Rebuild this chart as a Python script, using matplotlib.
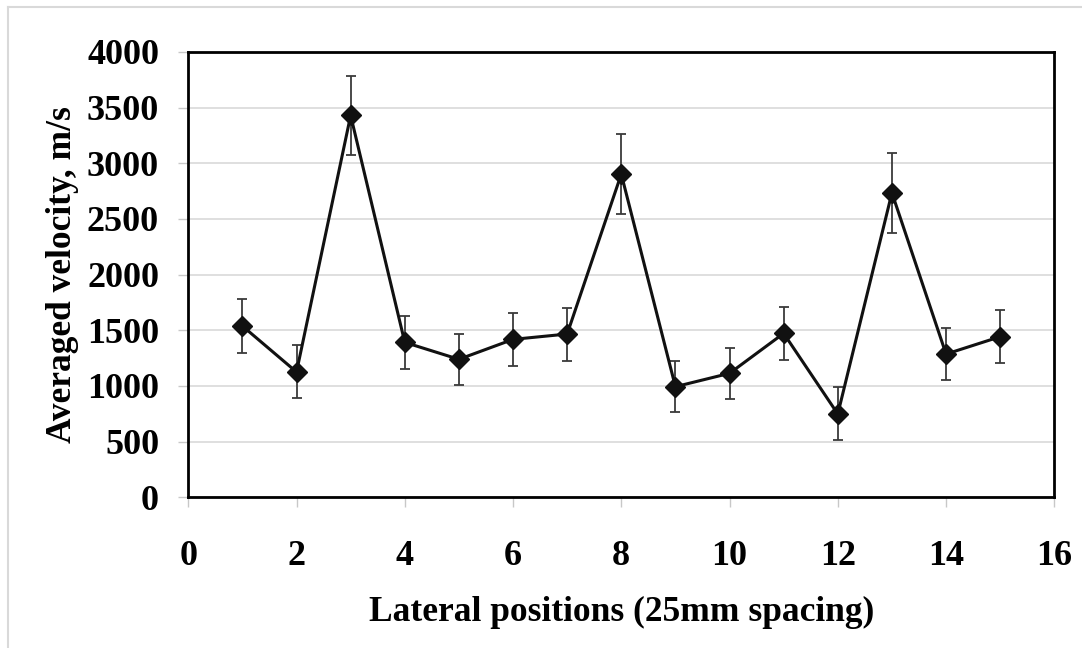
import matplotlib.pyplot as plt
from matplotlib.lines import Line2D

positions = [1, 2, 3, 4, 5, 6, 7, 8, 9, 10, 11, 12, 13, 14, 15]
velocity = [1538, 1125, 3429, 1391, 1239, 1418, 1466, 2902, 993, 1113, 1472, 748, 2734, 1286, 1442]
errors = [240, 238, 357, 238, 230, 238, 238, 358, 230, 229, 238, 238, 357, 235, 238]

plt.rcParams['font.family'] = ['Liberation Serif', 'DejaVu Serif']
plt.rcParams['font.weight'] = 'bold'

fig = plt.figure(figsize=(10.82, 6.48), dpi=100)
ax = fig.add_axes([0.174, 0.2326, 0.8004, 0.6874])

ax.errorbar(positions, velocity, yerr=errors, fmt='none', ecolor='#3a3a3a',
            elinewidth=1.3, capsize=3.6, capthick=1.3, zorder=2)
ax.plot(positions, velocity, color='#111111', linewidth=2.2, marker='D',
        markersize=10, markerfacecolor='#111111', markeredgecolor='#111111', zorder=3)

ax.set_xlim(0, 16)
ax.set_ylim(0, 4000)
ax.set_xticks(range(0, 17, 2))
ax.set_yticks(range(0, 4001, 500))
ax.yaxis.grid(True, color='#d9d9d9', linewidth=1.2)
ax.set_axisbelow(True)

for s in ax.spines.values():
    s.set_linewidth(2.0)
    s.set_color('black')

ax.tick_params(axis='both', direction='out', length=7, width=1, color='#c8c8c8',
               labelsize=26)
ax.tick_params(axis='x', pad=24)
ax.tick_params(axis='y', pad=14)
for lab in ax.get_xticklabels() + ax.get_yticklabels():
    lab.set_fontweight('bold')

ax.set_xlabel('Lateral positions (25mm spacing)', fontsize=25.5, fontweight='bold', labelpad=16)
ax.set_ylabel('Averaged velocity, m/s', fontsize=25.5, fontweight='bold', labelpad=6)

# light frame around the whole chart
fig.add_artist(Line2D([8 / 1082, 1.0], [1 - 7 / 648, 1 - 7 / 648], color='#d9d9d9', linewidth=1.5))
fig.add_artist(Line2D([8 / 1082, 8 / 1082], [0.0, 1 - 7 / 648], color='#d9d9d9', linewidth=1.5))

fig.savefig('out.png', dpi=100)
